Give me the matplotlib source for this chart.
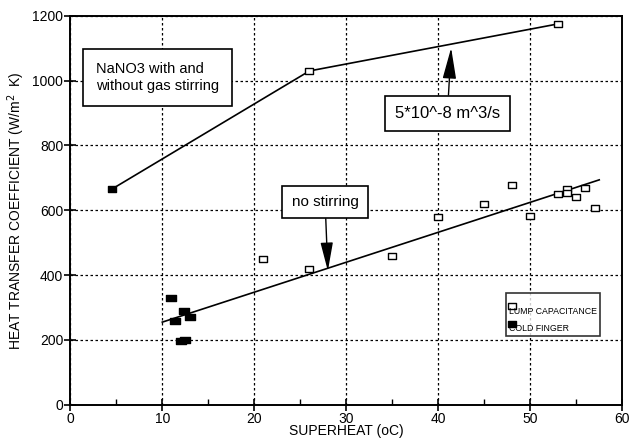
import matplotlib
matplotlib.use("Agg")
import matplotlib.pyplot as plt
from matplotlib.lines import Line2D
from matplotlib.path import Path
from matplotlib.ticker import MultipleLocator

plt.rcParams['font.family'] = ['Liberation Sans', 'DejaVu Sans']

# stirred case: 5*10^-8 m^3/s gas flow
stir_x = [4.5, 26.0, 53.0]
stir_y = [665, 1030, 1175]

# lump capacitance measurements (open squares)
lump_x = [21.0, 26.0, 35.0, 40.0, 45.0, 48.0, 50.0, 53.0, 54.0, 54.0, 55.0, 56.0, 57.0]
lump_y = [450, 420, 460, 578, 618, 678, 584, 650, 665, 652, 641, 668, 608]

# cold finger measurements (filled squares)
cold_x = [11.0, 11.4, 12.4, 13.0, 12.0, 12.5]
cold_y = [330, 257, 290, 270, 198, 200]

# linear fit, no stirring
fit_x = [10.0, 57.5]
fit_y = [255, 694]

# flat rectangle marker like the scanned original
rect = Path([(-1, -0.65), (1, -0.65), (1, 0.65), (-1, 0.65), (-1, -0.65)],
            [Path.MOVETO, Path.LINETO, Path.LINETO, Path.LINETO, Path.CLOSEPOLY])

fig = plt.figure(figsize=(6.33, 4.40), dpi=100)
ax = fig.add_axes([0.111, 0.08, 0.872, 0.884])

ax.plot(stir_x, stir_y, color='black', lw=1.2, zorder=3)
ax.plot(stir_x[:1], stir_y[:1], ls='none', marker=rect, ms=6, mfc='black', mec='black', zorder=4)
ax.plot(stir_x[1:], stir_y[1:], ls='none', marker=rect, ms=6, mfc='white', mec='black', mew=1.0, zorder=4)
ax.plot(fit_x, fit_y, color='black', lw=1.2, zorder=3)
ax.plot(lump_x, lump_y, ls='none', marker=rect, ms=6, mfc='white', mec='black', mew=1.0, zorder=4)
ax.plot(cold_x, cold_y, ls='none', marker=rect, ms=6.5, mfc='black', mec='black', zorder=4)

ax.set_xlim(0, 60)
ax.set_ylim(0, 1200)
ax.xaxis.set_major_locator(MultipleLocator(10))
ax.xaxis.set_minor_locator(MultipleLocator(5))
ax.yaxis.set_major_locator(MultipleLocator(200))
ax.tick_params(which='major', direction='inout', length=8, width=1.2, labelsize=10, pad=1)
ax.tick_params(which='minor', direction='in', length=4, width=1.0)
ax.grid(True, which='major', ls=(0, (2, 2)), color='black', lw=0.9)
for sp in ax.spines.values():
    sp.set_linewidth(1.4)

ax.set_xlabel('SUPERHEAT (oC)', fontsize=10, labelpad=-1)
ax.set_ylabel('HEAT TRANSFER COEFFICIENT (W/m$^2$  K)', fontsize=10, labelpad=4)

box = dict(boxstyle='square,pad=0.6', fc='white', ec='black', lw=1.2)
ax.text(9.5, 1010, 'NaNO3 with and\nwithout gas stirring', fontsize=10.5,
        ha='center', va='center', multialignment='left',
        bbox=dict(boxstyle='square,pad=0.9', fc='white', ec='black', lw=1.2), zorder=5)
ax.annotate('5*10^-8 m^3/s', xy=(41.4, 1101), xytext=(41.0, 900), fontsize=12,
            ha='center', va='center', bbox=box, zorder=5,
            arrowprops=dict(arrowstyle='-|>,head_length=1.6,head_width=0.35', color='black', lw=1.0,
                            shrinkA=0, shrinkB=0))
ax.annotate('no stirring', xy=(28.0, 413), xytext=(27.7, 626), fontsize=11,
            ha='center', va='center', bbox=box, zorder=5,
            arrowprops=dict(arrowstyle='-|>,head_length=1.6,head_width=0.35', color='black', lw=1.0,
                            shrinkA=0, shrinkB=0))

handles = [Line2D([], [], ls='none', marker=rect, ms=6, mfc='white', mec='black'),
           Line2D([], [], ls='none', marker=rect, ms=6, mfc='black', mec='black')]
leg = ax.legend(handles, ['\nLUMP CAPACITANCE', '\nCOLD FINGER'], loc='upper left',
                bbox_to_anchor=(0.781, 0.298), fontsize=6.3, handlelength=0.8,
                handletextpad=-0.8, labelspacing=-0.2, borderpad=0.35,
                frameon=True, fancybox=False, edgecolor='black')
leg.get_frame().set_linewidth(1.2)
leg.set_zorder(6)

fig.savefig('out.png', dpi=100)
